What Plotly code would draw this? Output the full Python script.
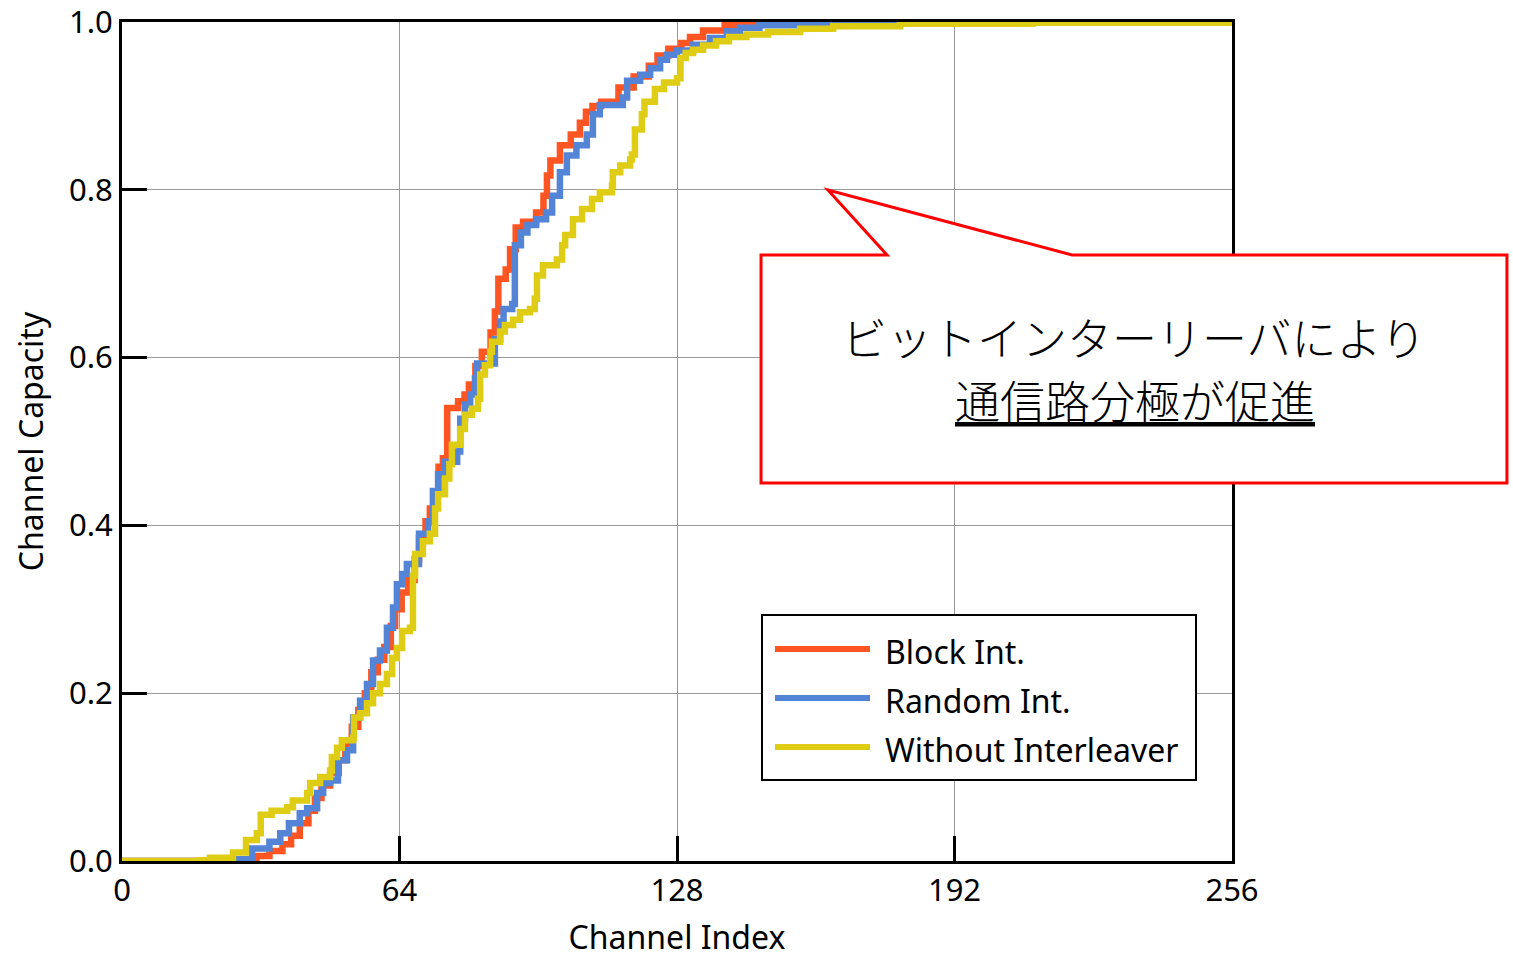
import plotly.graph_objects as go

# ---------------- data ----------------
block_idx = [0, 28, 31, 34, 37, 39, 41, 43, 44.5, 46, 48, 50, 51.5, 53, 54.5, 56, 57.5, 59, 60.5, 62, 63,
             64.5, 66, 67.5, 68.5, 70, 71, 72, 73, 74, 75, 77.5, 79, 80, 81.5, 83, 85, 86, 86.8, 88.5,
             89.5, 90.8, 92.5, 95.5, 97.2, 98, 98.8, 101, 103.5, 105.6, 107, 108.5, 110.5, 114.5, 118,
             121.5, 123.5, 126, 129, 131, 134, 139, 146, 156, 256]
block_cap = [0.0, 0.002, 0.006, 0.012, 0.02, 0.03, 0.045, 0.06, 0.075, 0.09, 0.105, 0.12, 0.14, 0.16, 0.18,
             0.2, 0.225, 0.24, 0.255, 0.28, 0.3, 0.32, 0.335, 0.36, 0.385, 0.405, 0.42, 0.44, 0.47, 0.48,
             0.54, 0.548, 0.556, 0.568, 0.59, 0.607, 0.63, 0.655, 0.694, 0.705, 0.729, 0.755, 0.762,
             0.773, 0.793, 0.817, 0.835, 0.853, 0.866, 0.88, 0.893, 0.9, 0.905, 0.922, 0.935, 0.948,
             0.96, 0.968, 0.975, 0.982, 0.99, 0.996, 0.999, 1.0, 1.0]

random_idx = [0, 27, 30, 34, 36.5, 38.5, 41, 42.7, 45, 46.4, 48, 49.8, 51.9, 53.3, 54.9, 56.5, 57.9, 59.5,
              61.1, 62.5, 63.4, 64.6, 65.7, 68.5, 70.6, 71.7, 72.9, 74.5, 77.3, 78.0, 79.1, 80.3, 81.4,
              81.9, 86, 87.2, 88, 90, 90.6, 92, 93.5, 95.5, 97.8, 99.2, 101, 102.6, 104.8, 107.2, 108.6,
              110.2, 115.5, 116.5, 119.5, 121.8, 124.1, 125.7, 128, 131.7, 135.6, 139.5, 142.5, 147, 156,
              165, 256]
random_cap = [0.0, 0.002, 0.015, 0.023, 0.033, 0.045, 0.057, 0.063, 0.081, 0.093, 0.096, 0.12, 0.132,
              0.171, 0.191, 0.211, 0.239, 0.251, 0.278, 0.302, 0.33, 0.342, 0.354, 0.39, 0.405, 0.441,
              0.461, 0.476, 0.488, 0.527, 0.544, 0.556, 0.575, 0.593, 0.622, 0.643, 0.658, 0.664, 0.734,
              0.749, 0.758, 0.765, 0.773, 0.793, 0.821, 0.841, 0.853, 0.866, 0.89, 0.901, 0.91, 0.93,
              0.937, 0.945, 0.955, 0.961, 0.966, 0.973, 0.981, 0.989, 0.993, 0.996, 0.999, 1.0, 1.0]

without_idx = [0, 18, 20.3, 25.6, 28.6, 31.1, 32, 34.5, 38.1, 39.4, 42.7, 43.4, 45.7, 48, 48.4, 49.6, 50.7,
               53.3, 53.5, 54.9, 56.5, 57.9, 59.5, 61.1, 62.3, 63.4, 64.6, 66.4, 67.1, 67.6, 69.4, 71,
               72.2, 72.9, 74.5, 75.5, 76.1, 78, 79.1, 80.7, 82.1, 82.6, 83.7, 84.9, 85.3, 87.2, 88.3,
               90.2, 91.8, 94.1, 95.2, 95.7, 97.1, 100.3, 101.5, 102.2, 104, 106.1, 108.4, 110.2, 113,
               113.2, 114.9, 117.2, 117.6, 118.3, 119.9, 120.5, 122.9, 125, 128, 128.8, 130, 131.7, 134,
               137, 140, 144, 149, 156.4, 164, 179.4, 210, 256]
without_cap = [0.0, 0.001, 0.004, 0.01, 0.025, 0.033, 0.055, 0.06, 0.064, 0.072, 0.081, 0.093, 0.1, 0.108,
               0.124, 0.135, 0.144, 0.147, 0.171, 0.176, 0.188, 0.2, 0.211, 0.223, 0.242, 0.254, 0.274,
               0.278, 0.34, 0.366, 0.381, 0.39, 0.42, 0.437, 0.456, 0.473, 0.496, 0.515, 0.532, 0.539,
               0.551, 0.58, 0.591, 0.607, 0.619, 0.631, 0.639, 0.645, 0.654, 0.658, 0.67, 0.698, 0.71,
               0.717, 0.734, 0.746, 0.765, 0.777, 0.789, 0.797, 0.805, 0.821, 0.829, 0.836, 0.842, 0.872,
               0.89, 0.905, 0.92, 0.928, 0.933, 0.957, 0.963, 0.967, 0.972, 0.977, 0.982, 0.985, 0.988,
               0.992, 0.995, 0.998, 0.999, 0.999]

series_names = ["Block Int.", "Random Int.", "Without Interleaver"]
series_colors = ["#FF5522", "#5384D6", "#DECD14"]
x_ticks = [0, 64, 128, 192, 256]
y_ticks = [0.0, 0.2, 0.4, 0.6, 0.8, 1.0]
callout_lines = ["ビットインターリーバにより", "通信路分極が促進"]

FONT = "Noto Sans, Open Sans, sans-serif"
JP_FONT = "Noto Sans CJK JP, sans-serif"

# plot-area geometry (pixels) used to place paper-referenced decorations
W, H = 1513, 959
L, R, T, B = 122, 281, 22, 98
PW, PH = W - L - R, H - T - B


def px(xp):
    return (xp - L) / PW


def py(yp):
    return (H - B - yp) / PH


fig = go.Figure()
for xs, ys, name, col in zip([block_idx, random_idx, without_idx],
                             [block_cap, random_cap, without_cap],
                             series_names, series_colors):
    fig.add_trace(go.Scatter(x=xs, y=ys, mode="lines", name=name,
                             line=dict(color=col, width=6.5, shape="hv"),
                             showlegend=False))

axis_common = dict(showline=True, linecolor="black", linewidth=3, mirror=True,
                   ticks="inside", ticklen=25, tickwidth=3, tickcolor="black",
                   showgrid=True, gridcolor="#9a9a9a", gridwidth=1.2, zeroline=False,
                   ticklabeloverflow="allow", automargin=False,
                   tickfont=dict(family=FONT, size=31, color="black"))

fig.update_xaxes(range=[0, 256], tickvals=x_ticks, ticktext=[str(v) for v in x_ticks],
                 title=dict(text="Channel Index", font=dict(family=FONT, size=32, color="black"),
                            standoff=18),
                 **axis_common)
fig.update_yaxes(range=[0, 1], tickvals=y_ticks, ticktext=[f"{v:.1f}" for v in y_ticks],
                 title=dict(text="Channel Capacity", font=dict(family=FONT, size=32, color="black"),
                            standoff=16),
                 **axis_common)

# --- manual legend (long line samples like the reference) ---
shapes = []
annotations = []
shapes.append(dict(type="rect", xref="paper", yref="paper", x0=px(762), x1=px(1196), y0=py(780), y1=py(615),
                   line=dict(color="black", width=2), fillcolor="white", layer="above"))
leg_rows = [649, 698, 747]
for name, col, yr in zip(series_names, series_colors, leg_rows):
    shapes.append(dict(type="line", xref="paper", yref="paper", x0=px(775), x1=px(870), y0=py(yr), y1=py(yr),
                       line=dict(color=col, width=6), layer="above"))
    annotations.append(dict(xref="paper", yref="paper", x=px(883), y=py(yr + 2), text=name, showarrow=False,
                            xanchor="left", yanchor="middle",
                            font=dict(family=FONT, size=32, color="black")))

# --- speech-bubble callout ---
pts = [(761, 255), (887, 255), (828, 190), (1072, 255), (1507, 255), (1507, 483), (761, 483)]
path = "M " + " L ".join(f"{px(a):.4f} {py(b):.4f}" for a, b in pts) + " Z"
shapes.append(dict(type="path", xref="paper", yref="paper", path=path,
                   line=dict(color="#FF0000", width=3), fillcolor="white", layer="above"))
annotations.append(dict(xref="paper", yref="paper", x=px(1134), y=py(336), text=callout_lines[0],
                        showarrow=False, xanchor="center", yanchor="middle",
                        font=dict(family=JP_FONT, size=45, color="black", weight=300)))
annotations.append(dict(xref="paper", yref="paper", x=px(1135), y=py(399),
                        text="<u>" + callout_lines[1] + "</u>",
                        showarrow=False, xanchor="center", yanchor="middle",
                        font=dict(family=JP_FONT, size=45, color="black", weight=300)))

fig.update_layout(width=W, height=H, margin=dict(l=L, r=R, t=T, b=B),
                  paper_bgcolor="white", plot_bgcolor="white",
                  shapes=shapes, annotations=annotations, showlegend=False)

fig.write_html("out.html")
